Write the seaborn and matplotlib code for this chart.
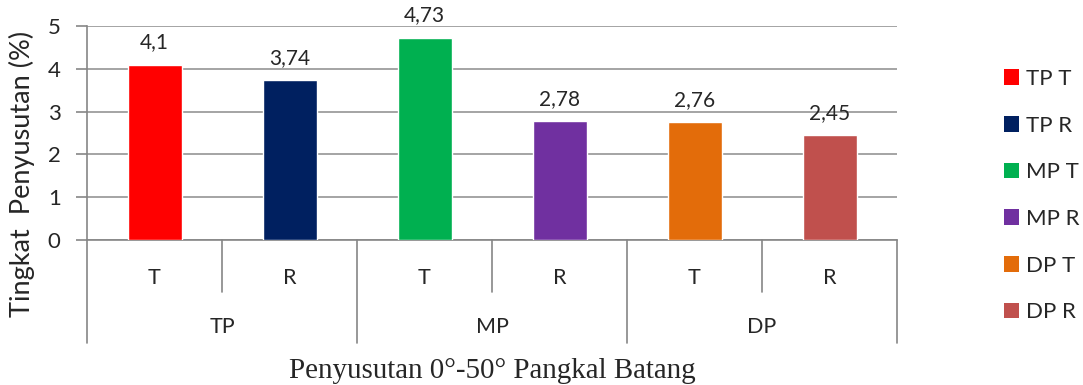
import matplotlib
matplotlib.use("Agg")
import matplotlib.pyplot as plt
import matplotlib.patches as mpatches
import matplotlib.transforms as mtransforms
import seaborn as sns
import pandas as pd

groups = ["TP", "MP", "DP"]
subcats = ["T", "R"]
series_names = ["TP T", "TP R", "MP T", "MP R", "DP T", "DP R"]
values = [4.1, 3.74, 4.73, 2.78, 2.76, 2.45]
value_labels = ["4,1", "3,74", "4,73", "2,78", "2,76", "2,45"]
colors = ["#FF0000", "#002060", "#00B050", "#7030A0", "#E36C0A", "#C0504D"]

sns.set_style("white")
plt.rcParams["font.family"] = ["Lato", "DejaVu Sans"]

df = pd.DataFrame({"name": series_names, "value": values})

fig = plt.figure(figsize=(10.83, 3.85), dpi=100)
ax = fig.add_axes([87 / 1083, 1 - 240 / 385, (897 - 87) / 1083, (240 - 26) / 385])
ax.set_axisbelow(True)

sns.barplot(data=df, x="name", y="value", hue="name", palette=colors,
            order=series_names, hue_order=series_names, width=0.4,
            legend=False, ax=ax, saturation=1, zorder=3)

ax.set_ylim(0, 5)
ax.set_xlim(-0.5, 5.5)
ax.set_yticks(range(0, 6))
ax.yaxis.grid(True, color="#8c8c8c", lw=1.1)
ax.xaxis.grid(False)
ax.tick_params(axis="y", labelsize=16, length=8, width=1.2, color="#868686",
               direction="out", left=True, pad=11)
ax.set_xticks([])
ax.set_xlabel("")
ax.set_ylabel("Tingkat  Penyusutan (%)", fontsize=19.5)
ax.yaxis.set_label_coords(-0.064, 0.31)

for side in ["top", "right"]:
    ax.spines[side].set_visible(False)
for side in ["left", "bottom"]:
    ax.spines[side].set_color("#868686")
    ax.spines[side].set_linewidth(1.2)
ax.spines["left"].set_bounds(0, 5)

# value labels
for i, (v, lab) in enumerate(zip(values, value_labels)):
    ax.text(i, v + 0.28, lab, ha="center", va="bottom", fontsize=15, zorder=4)

trans = mtransforms.blended_transform_factory(ax.transData, ax.transAxes)
line_kw = dict(color="#868686", lw=1.2, clip_on=False, transform=trans)

# multi-level category axis
ax.plot([-0.5, -0.5], [0, -0.481], **line_kw)
for gi, g in enumerate(groups):
    for si, s in enumerate(subcats):
        idx = gi * 2 + si
        ax.text(idx, -0.178, s, ha="center", va="center", fontsize=15.5,
                transform=trans)
    ax.plot([gi * 2 + 0.5, gi * 2 + 0.5], [0, -0.243], **line_kw)
    ax.plot([gi * 2 + 1.5, gi * 2 + 1.5], [0, -0.481], **line_kw)
    ax.text(gi * 2 + 0.5, -0.407, g, ha="center", va="center", fontsize=15.5,
            transform=trans)

fig.text((87 + 897) / 2 / 1083, 1 - 371 / 385, "Penyusutan 0°-50° Pangkal Batang",
         ha="center", va="center", fontsize=20.9,
         family=["Liberation Serif", "DejaVu Serif"])

handles = [mpatches.Patch(facecolor=c, edgecolor="none", label=n)
           for c, n in zip(colors, series_names)]
fig.legend(handles=handles, loc="upper left", bbox_to_anchor=(995 / 1083, 1 - 60 / 385),
           frameon=False, fontsize=16, handlelength=0.7, handleheight=0.7,
           handletextpad=0.3, labelspacing=1.2, borderaxespad=0)

fig.savefig("out.png", dpi=100)
